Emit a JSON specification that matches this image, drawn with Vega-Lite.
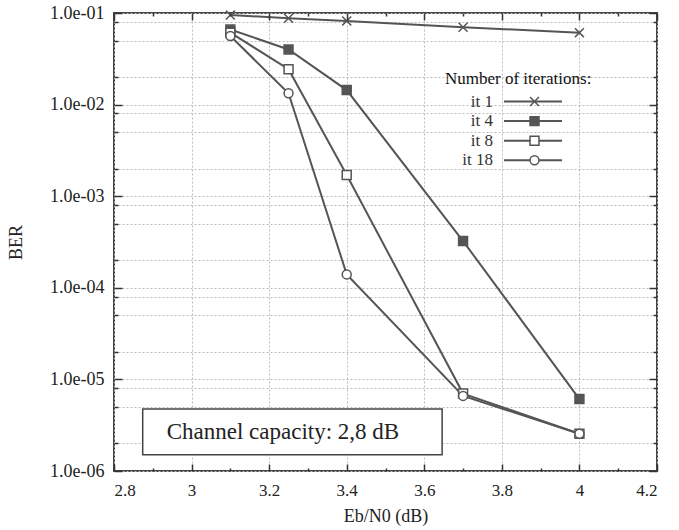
{
  "$schema": "https://vega.github.io/schema/vega-lite/v6.json",
  "autosize": {"type": "none"},
  "width": 543,
  "height": 458,
  "padding": {"left": 114, "top": 13, "right": 22, "bottom": 59},
  "background": "white",
  "config": {
    "view": {"stroke": "#444", "strokeWidth": 2},
    "font": "Liberation Serif"
  },
  "data": {
    "values": [
      {"ebn0": 3.1, "ber": 0.095, "series": "it 1", "iterations": 1},
      {"ebn0": 3.25, "ber": 0.0875, "series": "it 1", "iterations": 1},
      {"ebn0": 3.4, "ber": 0.082, "series": "it 1", "iterations": 1},
      {"ebn0": 3.7, "ber": 0.070, "series": "it 1", "iterations": 1},
      {"ebn0": 4.0, "ber": 0.061, "series": "it 1", "iterations": 1},
      {"ebn0": 3.1, "ber": 0.066, "series": "it 4", "iterations": 4},
      {"ebn0": 3.25, "ber": 0.040, "series": "it 4", "iterations": 4},
      {"ebn0": 3.4, "ber": 0.0144, "series": "it 4", "iterations": 4},
      {"ebn0": 3.7, "ber": 0.000324, "series": "it 4", "iterations": 4},
      {"ebn0": 4.0, "ber": 0.0000061, "series": "it 4", "iterations": 4},
      {"ebn0": 3.1, "ber": 0.061, "series": "it 8", "iterations": 8},
      {"ebn0": 3.25, "ber": 0.0243, "series": "it 8", "iterations": 8},
      {"ebn0": 3.4, "ber": 0.0017, "series": "it 8", "iterations": 8},
      {"ebn0": 3.7, "ber": 0.0000070, "series": "it 8", "iterations": 8},
      {"ebn0": 4.0, "ber": 0.00000255, "series": "it 8", "iterations": 8},
      {"ebn0": 3.1, "ber": 0.056, "series": "it 18", "iterations": 18},
      {"ebn0": 3.25, "ber": 0.0133, "series": "it 18", "iterations": 18},
      {"ebn0": 3.4, "ber": 0.00014, "series": "it 18", "iterations": 18},
      {"ebn0": 3.7, "ber": 0.0000066, "series": "it 18", "iterations": 18},
      {"ebn0": 4.0, "ber": 0.00000255, "series": "it 18", "iterations": 18}
    ]
  },
  "resolve": {"axis": {"x": "independent", "y": "independent"}},
  "layer": [
    {
      "mark": {"type": "line", "strokeWidth": 2},
      "encoding": {
        "x": {
          "field": "ebn0", "type": "quantitative",
          "scale": {"domain": [2.8, 4.2], "nice": false, "zero": false},
          "axis": {
            "orient": "bottom",
            "title": "Eb/N0 (dB)",
            "titleFont": "Liberation Serif", "titleFontSize": 18, "titleFontWeight": "normal", "titleColor": "#222",
            "titlePadding": 9,
            "values": [2.8, 3.0, 3.2, 3.4, 3.6, 3.8, 4.0, 4.2],
            "format": "~g",
            "labelFont": "Liberation Serif", "labelFontSize": 17, "labelColor": "#222",
            "labelPadding": 11,
            "domain": false,
            "ticks": false, "tickSize": 0,
            "grid": true,
            "gridColor": "#bbb", "gridDash": [2, 2], "gridWidth": 1
          }
        },
        "y": {
          "field": "ber", "type": "quantitative",
          "scale": {"type": "log", "domain": [0.000001, 0.1], "nice": false},
          "axis": {
            "orient": "left",
            "title": "BER",
            "titleFont": "Liberation Serif", "titleFontSize": 18, "titleFontWeight": "normal", "titleColor": "#222",
            "titlePadding": 24,
            "values": [0.000001, 0.000002, 0.000005, 0.000008, 0.00001, 0.00002, 0.00005, 0.00008, 0.0001, 0.0002, 0.0005, 0.0008, 0.001, 0.002, 0.005, 0.008, 0.01, 0.02, 0.05, 0.08, 0.1],
            "labelExpr": "abs(log(datum.value) / LN10 - round(log(datum.value) / LN10)) < 0.001 ? '1.0e-0' + (-round(log(datum.value) / LN10)) : ''",
            "labelFont": "Liberation Serif", "labelFontSize": 18, "labelColor": "#222",
            "labelPadding": 10,
            "domain": false,
            "ticks": false, "tickSize": 0,
            "grid": true,
            "gridColor": "#bbb", "gridDash": [2, 2], "gridWidth": 1
          }
        },
        "color": {
          "field": "series", "type": "nominal",
          "scale": {"domain": ["it 1", "it 4", "it 8", "it 18"], "range": ["#555", "#555", "#555", "#555"]},
          "legend": {
            "orient": "none", "legendX": 331, "legendY": 58, "zindex": 1,
            "title": "Number of iterations:",
            "titleFont": "Liberation Serif", "titleFontSize": 17, "titleFontWeight": "normal", "titleColor": "#111",
            "titlePadding": 5,
            "symbolType": "M-11.6,0H11.6", "symbolSize": 25, "symbolStrokeWidth": 2, "symbolOffset": 79.5,
            "labelAlign": "right", "labelOffset": -48.5,
            "labelFont": "Liberation Serif", "labelFontSize": 17, "labelColor": "#333",
            "rowPadding": 1.6
          }
        }
      }
    },
    {
      "mark": {"type": "point", "filled": false, "size": 80, "color": "#555", "strokeWidth": 1.5, "opacity": 1},
      "encoding": {
        "x": {
          "field": "ebn0", "type": "quantitative",
          "axis": {
            "orient": "top", "title": null, "labels": false, "grid": false, "domain": false, "zindex": 1,
            "values": [2.8, 2.9, 3.0, 3.1, 3.2, 3.3, 3.4, 3.5, 3.6, 3.7, 3.8, 3.9, 4.0, 4.1, 4.2],
            "ticks": true, "tickColor": "#333", "tickWidth": 1.5, "tickOpacity": 1,
            "tickSize": {"condition": {"test": "abs(datum.value * 5 - round(datum.value * 5)) < 0.01", "value": -7}, "value": -3}
          }
        },
        "y": {
          "field": "ber", "type": "quantitative",
          "axis": {
            "orient": "right", "title": null, "labels": false, "grid": false, "domain": false, "zindex": 1,
            "values": [0.000001, 0.000002, 0.000005, 0.000008, 0.00001, 0.00002, 0.00005, 0.00008, 0.0001, 0.0002, 0.0005, 0.0008, 0.001, 0.002, 0.005, 0.008, 0.01, 0.02, 0.05, 0.08, 0.1],
            "ticks": true, "tickColor": "#333", "tickWidth": 1.5, "tickOpacity": 1,
            "tickSize": {"condition": {"test": "abs(log(datum.value) / LN10 - round(log(datum.value) / LN10)) < 0.001", "value": -8}, "value": -4}
          }
        },
        "shape": {
          "field": "iterations", "type": "ordinal",
          "scale": {"domain": [1, 4, 8, 18], "range": ["M-1,-1L1,1M-1,1L1,-1", "square", "square", "circle"]},
          "legend": {
            "orient": "none", "legendX": 331, "legendY": 58, "zindex": 2,
            "title": "Number of iterations:",
            "titleFont": "Liberation Serif", "titleFontSize": 17, "titleFontWeight": "normal", "titleColor": "rgba(0,0,0,0)",
            "titlePadding": 5,
            "symbolOffset": 81, "symbolStrokeColor": "#555", "symbolStrokeWidth": 1.5, "symbolSize": 80,
            "labelFont": "Liberation Serif", "labelFontSize": 17, "labelOpacity": 0,
            "rowPadding": 1.6,
            "encoding": {"symbols": {"stroke": {"value": "#555"}, "strokeWidth": {"value": 1.5}}}
          }
        },
        "fill": {
          "field": "iterations", "type": "ordinal",
          "scale": {"domain": [1, 4, 8, 18], "range": ["#555", "#555", "#fff", "#fff"]},
          "legend": {
            "orient": "none", "legendX": 331, "legendY": 58, "zindex": 2,
            "title": "Number of iterations:",
            "titleFont": "Liberation Serif", "titleFontSize": 17, "titleFontWeight": "normal", "titleColor": "rgba(0,0,0,0)",
            "titlePadding": 5,
            "symbolOffset": 81, "symbolStrokeColor": "#555", "symbolStrokeWidth": 1.5, "symbolSize": 80,
            "labelFont": "Liberation Serif", "labelFontSize": 17, "labelOpacity": 0,
            "rowPadding": 1.6,
            "encoding": {"symbols": {"stroke": {"value": "#555"}, "strokeWidth": {"value": 1.5}}}
          }
        }
      }
    },
    {
      "data": {"values": [{"note": "Channel capacity: 2,8 dB"}]},
      "mark": {"type": "rect", "fill": "white", "stroke": "#444", "strokeWidth": 1.5},
      "encoding": {
        "x": {
          "datum": 2.874, "type": "quantitative",
          "axis": {
            "orient": "bottom", "title": null, "labels": false, "grid": false, "domain": false, "zindex": 1,
            "values": [2.8, 2.9, 3.0, 3.1, 3.2, 3.3, 3.4, 3.5, 3.6, 3.7, 3.8, 3.9, 4.0, 4.1, 4.2],
            "ticks": true, "tickColor": "#333", "tickWidth": 1.5, "tickOpacity": 1,
            "tickSize": {"condition": {"test": "abs(datum.value * 5 - round(datum.value * 5)) < 0.01", "value": -7}, "value": -3}
          }
        },
        "x2": {"datum": 3.646},
        "y": {
          "datum": 0.00000475, "type": "quantitative",
          "axis": {
            "orient": "left", "title": null, "labels": false, "grid": false, "domain": false, "zindex": 1,
            "values": [0.000001, 0.000002, 0.000005, 0.000008, 0.00001, 0.00002, 0.00005, 0.00008, 0.0001, 0.0002, 0.0005, 0.0008, 0.001, 0.002, 0.005, 0.008, 0.01, 0.02, 0.05, 0.08, 0.1],
            "ticks": true, "tickColor": "#333", "tickWidth": 1.5, "tickOpacity": 1,
            "tickSize": {"condition": {"test": "abs(log(datum.value) / LN10 - round(log(datum.value) / LN10)) < 0.001", "value": -8}, "value": -4}
          }
        },
        "y2": {"datum": 0.0000015}
      }
    },
    {
      "data": {"values": [{"note": "Channel capacity: 2,8 dB"}]},
      "mark": {"type": "text", "font": "Liberation Serif", "fontSize": 23, "color": "#222", "align": "center", "baseline": "middle"},
      "encoding": {
        "x": {"datum": 3.2356, "type": "quantitative", "axis": null},
        "y": {"datum": 0.00000267, "type": "quantitative", "axis": null},
        "text": {"field": "note"}
      }
    }
  ]
}
